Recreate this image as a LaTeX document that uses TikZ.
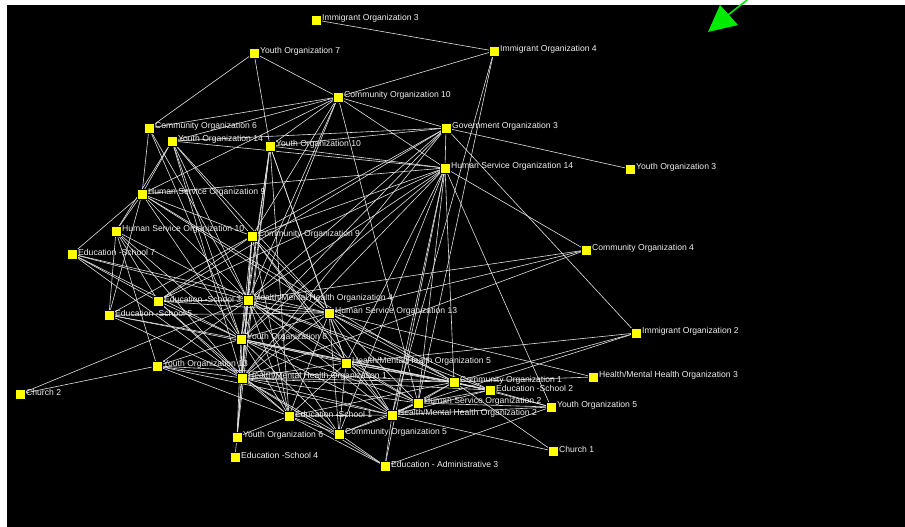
\documentclass[tikz,border=0pt]{standalone}
\usepackage{fontspec}
\setmainfont{Liberation Sans}
\pgfdeclarelayer{bg}
\pgfsetlayers{bg,main}
\definecolor{nodeyel}{RGB}{255,255,0}
\definecolor{edgegray}{RGB}{225,225,225}
\definecolor{labgray}{RGB}{240,240,240}
\definecolor{arrowgreen}{RGB}{0,235,0}
\tikzset{
  sq/.style={draw=black, line width=0.4pt, fill=nodeyel, minimum size=10pt, inner sep=0pt},
  lab/.style={anchor=west, text=labgray, font=\fontsize{8.6}{9}\selectfont, inner sep=0pt},
  edge/.style={draw=edgegray, line width=0.6pt}
}
\newcommand\nd[4]{\node[sq] (#1) at (#2,-#3) {}; \node[lab] (#1l) at (#2+6,-#3+1.5) {#4};}
\begin{document}
\begin{tikzpicture}[x=1pt,y=1pt]
\useasboundingbox (0,0) rectangle (905,-527);
\begin{pgfonlayer}{bg}
\fill[white] (0,0) rectangle (905,-527);
\fill[black] (7,-5) rectangle (905,-527);
\end{pgfonlayer}
\nd{imm3}{316}{20}{Immigrant Organization 3}
\nd{imm4}{494}{51}{Immigrant Organization 4}
\nd{y7}{254}{53}{Youth Organization 7}
\nd{c10}{338}{97}{Community Organization 10}
\nd{gov3}{446}{128}{Government Organization 3}
\nd{c6}{149}{128}{Community Organization 6}
\nd{y14}{172}{141}{Youth Organization 14}
\nd{y10}{270}{146}{Youth Organization 10}
\nd{hs14}{445}{168}{Human Service Organization 14}
\nd{y3}{630}{169}{Youth Organization 3}
\nd{hs9}{142}{194}{Human Service Organization 9}
\nd{hs10}{116}{231}{Human Service Organization 10}
\nd{c9}{252}{236}{Community Organization 9}
\nd{c4}{586}{250}{Community Organization 4}
\nd{e7}{72}{254}{Education -School 7}
\nd{e3}{158}{301}{Education -School 3}
\nd{h4}{248}{300}{Health/Mental Health Organization 4}
\nd{e5}{109}{315}{Education -School 5}
\nd{hs13}{329}{313}{Human Service Organization 13}
\nd{imm2}{636}{333}{Immigrant Organization 2}
\nd{y8}{241}{339}{Youth Organization 8}
\nd{h5}{346}{363}{Health/Mental Health Organization 5}
\nd{y13}{157}{366}{Youth Organization 13}
\nd{h1}{242}{378}{Health/Mental Health Organization 1}
\nd{h3}{593}{377}{Health/Mental Health Organization 3}
\nd{c1}{454}{382}{Community Organization 1}
\nd{e2}{490}{390}{Education -School 2}
\nd{hs2}{418}{403}{Human Service Organization 2}
\nd{y5}{551}{407}{Youth Organization 5}
\nd{e1}{289}{416}{Education -School 1}
\nd{h2}{392}{415}{Health/Mental Health Organization 2}
\nd{ch2}{20}{394}{Church 2}
\nd{y6}{237}{437}{Youth Organization 6}
\nd{c5}{339}{434}{Community Organization 5}
\nd{e4}{235}{457}{Education -School 4}
\nd{ch1}{553}{451}{Church 1}
\nd{ea3}{385}{466}{Education - Administrative 3}
\coordinate (arrtail) at (747,0);
\coordinate (arrtip) at (708,-32);
\begin{pgfonlayer}{bg}
\foreach \a/\b in {imm3/imm4, imm4/c10, imm4/hs2, imm4/h2, y7/c10, y7/c6, y7/y10,
  c10/c6, c10/y14, c10/gov3, c10/hs14, c10/hs2, c10/c9, c10/hs9, c10/y8, c10/h4, c10/y10,
  gov3/y14, gov3/y3, gov3/hs14, gov3/c9, gov3/y8, gov3/h4, gov3/h1, gov3/imm2, gov3/y10, gov3/e3,
  y14/hs14, hs14/c4, hs14/y10, hs14/c9, hs14/hs9, hs14/h5, hs14/c1, hs14/hs2, hs14/h2, hs14/c5,
  hs14/y8, hs14/h4, hs14/h1, hs14/e3, hs14/y5, hs14/ea3,
  c4/hs13, c4/h1, c4/h4,
  c6/h4, c6/y8, c6/hs9,
  y14/hs9, y14/hs10, y14/h4, y14/y8, y14/c9, y14/h1, y14/hs13,
  y10/y8, y10/h4, y10/h1, y10/y6, y10/h5, y10/hs13, y10/e1,
  hs9/hs10, hs9/e7, hs9/e5, hs9/c9, hs9/h4, hs9/hs13, hs9/y8, hs9/c1,
  hs10/e5, hs10/e3, hs10/h4, hs10/y8, hs10/h1, hs10/y13,
  c9/e3, c9/e5, c9/h4, c9/y8, c9/y6, c9/h1, c9/e1, c9/h5, c9/hs13, c9/h2,
  e7/e3, e7/h4, e7/y8, e7/hs13, e7/h1,
  e3/h4, e3/y8, e3/hs13, e3/h1, e3/e1,
  e5/y8, e5/h1, e5/c1, e5/hs13,
  h4/hs13, h4/y8, h4/h5, h4/h1, h4/c1, h4/e2, h4/hs2, h4/h2, h4/e1, h4/y6, h4/c5, h4/y13, h4/ch2,
  hs13/y8, hs13/h5, hs13/c1, hs13/e2, hs13/h1, hs13/hs2, hs13/h2, hs13/e1, hs13/c5, hs13/h3,
  y8/h5, y8/h1, y8/c1, y8/e2, y8/hs2, y8/h2, y8/e1, y8/y6, y8/c5, y8/y13,
  h5/c1, h5/e2, h5/hs2, h5/h2, h5/e1, h5/c5, h5/h1, h5/imm2,
  y13/ch2, y13/h1, y13/c1, y13/e1, y13/h2,
  h1/c1, h1/e2, h1/hs2, h1/h2, h1/e1, h1/y6, h1/c5, h1/ea3,
  c1/e2, c1/hs2, c1/h2, c1/y5, c1/imm2, c1/h3, c1/e1, c1/ch1,
  e2/hs2, e2/y5, e2/h2,
  hs2/h2, hs2/y5, hs2/c5, hs2/imm2,
  h2/c5, h2/ch1, h2/y5, h2/ea3, h2/e1,
  y5/ea3, c5/ea3, e1/ea3, e1/c5, y6/e4, y6/e1}
  \draw[edge] (\a.center) -- (\b.center);
\end{pgfonlayer}
\draw[arrowgreen, line width=1.6pt] (arrtail) -- (728,-15);
\fill[arrowgreen] (arrtip) -- (720,-5) -- (738,-25) -- cycle;
\end{tikzpicture}
\end{document}
